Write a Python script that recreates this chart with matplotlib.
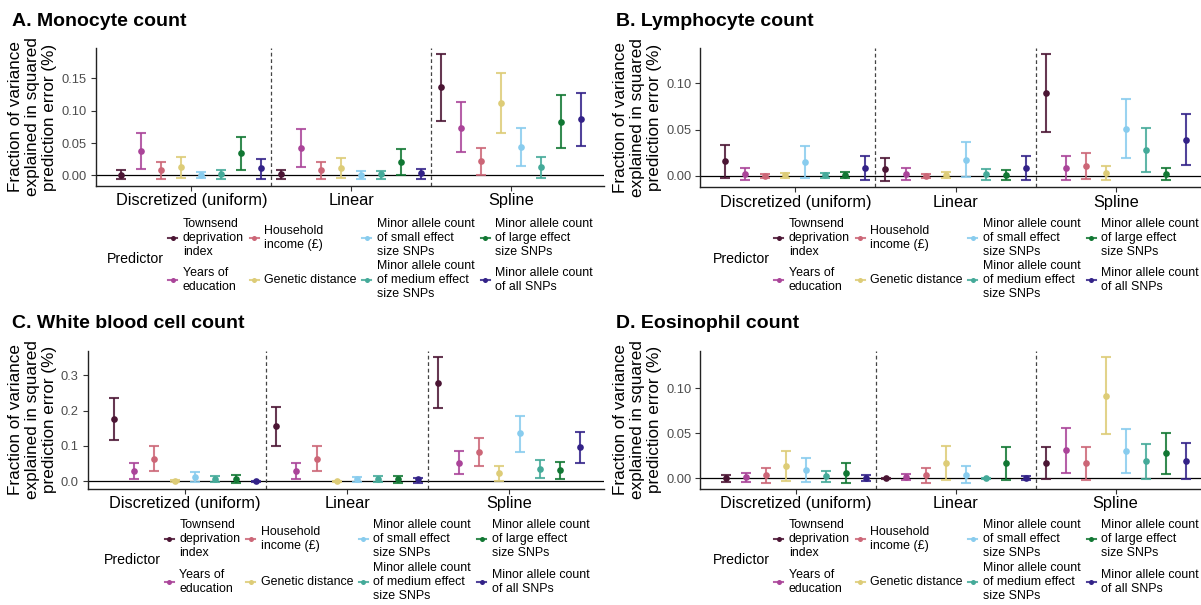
import numpy as np
import matplotlib
matplotlib.use('Agg')
import matplotlib.pyplot as plt
from matplotlib.lines import Line2D

plt.rcParams['font.family'] = ['Liberation Sans', 'DejaVu Sans']

# Daten
methods = ['Discretized (uniform)', 'Linear', 'Spline']
predictors = ['Townsend\ndeprivation\nindex', 'Years of\neducation', 'Household\nincome (£)',
              'Genetic distance', 'Minor allele count\nof small effect\nsize SNPs',
              'Minor allele count\nof medium effect\nsize SNPs',
              'Minor allele count\nof large effect\nsize SNPs', 'Minor allele count\nof all SNPs']
colors = ['#4B1534', '#AA4499', '#CC6677', '#DDCC77', '#88CCEE', '#44AA99', '#117733', '#332288']

# A. Monocyte count (Discretized, Linear, Spline je 8 Werte)
mono_est = [0.001, 0.038, 0.008, 0.013, 0.0005, 0.0015, 0.034, 0.011,
            0.0015, 0.042, 0.008, 0.012, 0.0005, 0.002, 0.020, 0.003,
            0.136, 0.074, 0.022, 0.112, 0.044, 0.013, 0.083, 0.087]
mono_lo = [-0.005, 0.010, -0.005, -0.004, -0.004, -0.005, 0.008, -0.005,
           -0.005, 0.013, -0.005, -0.004, -0.005, -0.005, 0.000, -0.006,
           0.084, 0.036, 0.000, 0.065, 0.014, -0.004, 0.042, 0.045]
mono_hi = [0.008, 0.065, 0.021, 0.029, 0.005, 0.008, 0.060, 0.026,
           0.008, 0.071, 0.021, 0.027, 0.006, 0.007, 0.040, 0.010,
           0.188, 0.113, 0.043, 0.159, 0.074, 0.028, 0.124, 0.128]

# B. Lymphocyte count
lymph_est = [0.0155, 0.0018, 0.0, 0.0007, 0.015, 0.0007, 0.0007, 0.008,
             0.007, 0.002, 0.0, 0.001, 0.017, 0.0018, 0.001, 0.0087,
             0.0895, 0.0087, 0.011, 0.003, 0.051, 0.028, 0.002, 0.039]
lymph_lo = [-0.0025, -0.005, -0.0025, -0.003, -0.0025, -0.003, -0.003, -0.005,
            -0.0055, -0.005, -0.0025, -0.003, -0.001, -0.0047, -0.0047, -0.005,
            0.047, -0.0047, -0.004, -0.005, 0.019, 0.004, -0.005, 0.0115]
lymph_hi = [0.033, 0.008, 0.002, 0.003, 0.032, 0.003, 0.0035, 0.021,
            0.019, 0.008, 0.002, 0.004, 0.036, 0.0075, 0.006, 0.0217,
            0.132, 0.021, 0.025, 0.0105, 0.083, 0.052, 0.008, 0.067]

# C. White blood cell count
wbc_est = [0.177, 0.028, 0.0635, 0.0, 0.012, 0.0057, 0.0057, -0.001,
           0.155, 0.028, 0.0635, -0.001, 0.0047, 0.0047, 0.0057, 0.0047,
           0.279, 0.052, 0.0825, 0.022, 0.135, 0.034, 0.031, 0.097]
wbc_lo = [0.1175, 0.005, 0.0275, -0.003, -0.004, -0.004, -0.0057, -0.004,
          0.100, 0.005, 0.0275, -0.003, -0.004, -0.004, -0.005, -0.005,
          0.206, 0.021, 0.042, 0.0, 0.083, 0.0085, 0.0057, 0.052]
wbc_hi = [0.235, 0.051, 0.0985, 0.002, 0.0256, 0.015, 0.018, 0.001,
          0.210, 0.051, 0.0985, 0.001, 0.012, 0.013, 0.015, 0.0095,
          0.353, 0.086, 0.122, 0.0436, 0.186, 0.059, 0.055, 0.139]

# D. Eosinophil count
eos_est = [0.0004, 0.0015, 0.0037, 0.014, 0.0093, 0.0022, 0.0063, 0.0004,
           0.0, 0.0015, 0.0033, 0.017, 0.004, 0.0, 0.0167, 0.0,
           0.017, 0.031, 0.017, 0.092, 0.030, 0.019, 0.028, 0.0196]
eos_lo = [-0.0037, -0.004, -0.0048, -0.003, -0.0044, -0.0044, -0.0048, -0.003,
          -0.0007, -0.0022, -0.0048, -0.0019, -0.0052, -0.0004, -0.0019, -0.0022,
          -0.0011, 0.0063, -0.0019, 0.0496, 0.006, -0.0007, 0.0044, -0.0004]
eos_hi = [0.004, 0.0063, 0.0115, 0.030, 0.023, 0.008, 0.0174, 0.004,
          0.0007, 0.0052, 0.011, 0.0355, 0.0133, 0.0004, 0.0348, 0.0022,
          0.035, 0.056, 0.0348, 0.135, 0.055, 0.0378, 0.0507, 0.0389]

W, H = 1201, 605
fig = plt.figure(figsize=(W / 100, H / 100), dpi=100)


def px_axes(left, top, right, bottom):
    return fig.add_axes([left / W, 1 - bottom / H, (right - left) / W, (bottom - top) / H])


def draw_panel(rect, title, title_xy, est, lo, hi, ylim, yticks, yfmt, xlim, leg_xy):
    ax = px_axes(*rect)
    est, lo, hi = np.array(est), np.array(lo), np.array(hi)
    x = np.arange(1, 25)
    ax.axhline(0, color='black', lw=0.9, zorder=1)
    for sep in (8.5, 16.5):
        ax.axvline(sep, color='#444444', lw=0.9, ls=(0, (3, 2.2)), zorder=1)
    for k in range(24):
        c = colors[k % 8]
        ax.errorbar(x[k], est[k], yerr=[[est[k] - lo[k]], [hi[k] - est[k]]], fmt='none',
                    ecolor=c, elinewidth=1.5, capsize=3.6, capthick=1.5, alpha=0.85, zorder=2)
        ax.plot(x[k], est[k], 'o', color=c, ms=4.8, mec='none', zorder=3)
    ax.set_xlim(*xlim)
    ax.set_ylim(*ylim)
    ax.set_yticks(yticks)
    ax.set_yticklabels([yfmt.format(v) for v in yticks])
    ax.set_xticks([4.5, 12.5, 20.5])
    ax.set_xticklabels(methods, fontsize=11.8, color='black')
    ax.tick_params(axis='y', labelsize=9.3, labelcolor='#4D4D4D', length=3.8, width=0.8, pad=2.5,
                   color='#333333')
    ax.tick_params(axis='x', length=3.8, width=0.8, pad=1.5, color='#333333')
    for s in ('top', 'right'):
        ax.spines[s].set_visible(False)
    for s in ('left', 'bottom'):
        ax.spines[s].set_color('#222222')
        ax.spines[s].set_linewidth(1.0)
    ax.set_ylabel('Fraction of variance\nexplained in squared\nprediction error (%)',
                  fontsize=12.3, linespacing=1.17, labelpad=3)
    fig.text(title_xy[0] / W, 1 - title_xy[1] / H, title, fontsize=14, fontweight='bold',
             va='center', ha='left')

    # Legende
    lx, ly = leg_xy
    fig.text(lx / W, 1 - (ly + 21) / H, 'Predictor', fontsize=10.2, va='center', ha='left')
    col_dx = [65.7, 147.3, 259.7, 378.0]
    for k, lab in enumerate(predictors):
        cx = lx + col_dx[k // 2]
        cy = ly + 42.5 * (k % 2)
        fig.add_artist(Line2D([(cx - 4.5) / W, (cx + 4.5) / W], [1 - cy / H, 1 - cy / H],
                              color=colors[k], lw=1.5, alpha=0.85))
        fig.add_artist(Line2D([cx / W], [1 - cy / H], marker='o', ms=3.6, color=colors[k], mec='none'))
        fig.text((cx + 10) / W, 1 - cy / H, lab, fontsize=8.9, va='center', ha='left',
                 linespacing=1.2)
    return ax


draw_panel((95.5, 48, 604, 186), 'A. Monocyte count', (12, 21),
           mono_est, mono_lo, mono_hi, (-0.0165, 0.197), [0, 0.05, 0.10, 0.15], '{:.2f}',
           (-0.30, 25.16), (107, 237.7))
draw_panel((700.4, 48.3, 1201, 187.3), 'B. Lymphocyte count', (616.5, 21),
           lymph_est, lymph_lo, lymph_hi, (-0.0126, 0.138), [0, 0.05, 0.10], '{:.2f}',
           (-0.245, 24.76), (713, 237.7))
draw_panel((87.6, 350.7, 604, 489), 'C. White blood cell count', (12, 323),
           wbc_est, wbc_lo, wbc_hi, (-0.0227, 0.370), [0, 0.1, 0.2, 0.3], '{:.1f}',
           (-0.29, 25.16), (103.5, 539.3))
draw_panel((700.4, 350.7, 1201, 489), 'D. Eosinophil count', (616.5, 323),
           eos_est, eos_lo, eos_hi, (-0.0119, 0.1418), [0, 0.05, 0.10], '{:.2f}',
           (-0.265, 24.77), (713, 539.3))

fig.savefig('out.png', dpi=100)
